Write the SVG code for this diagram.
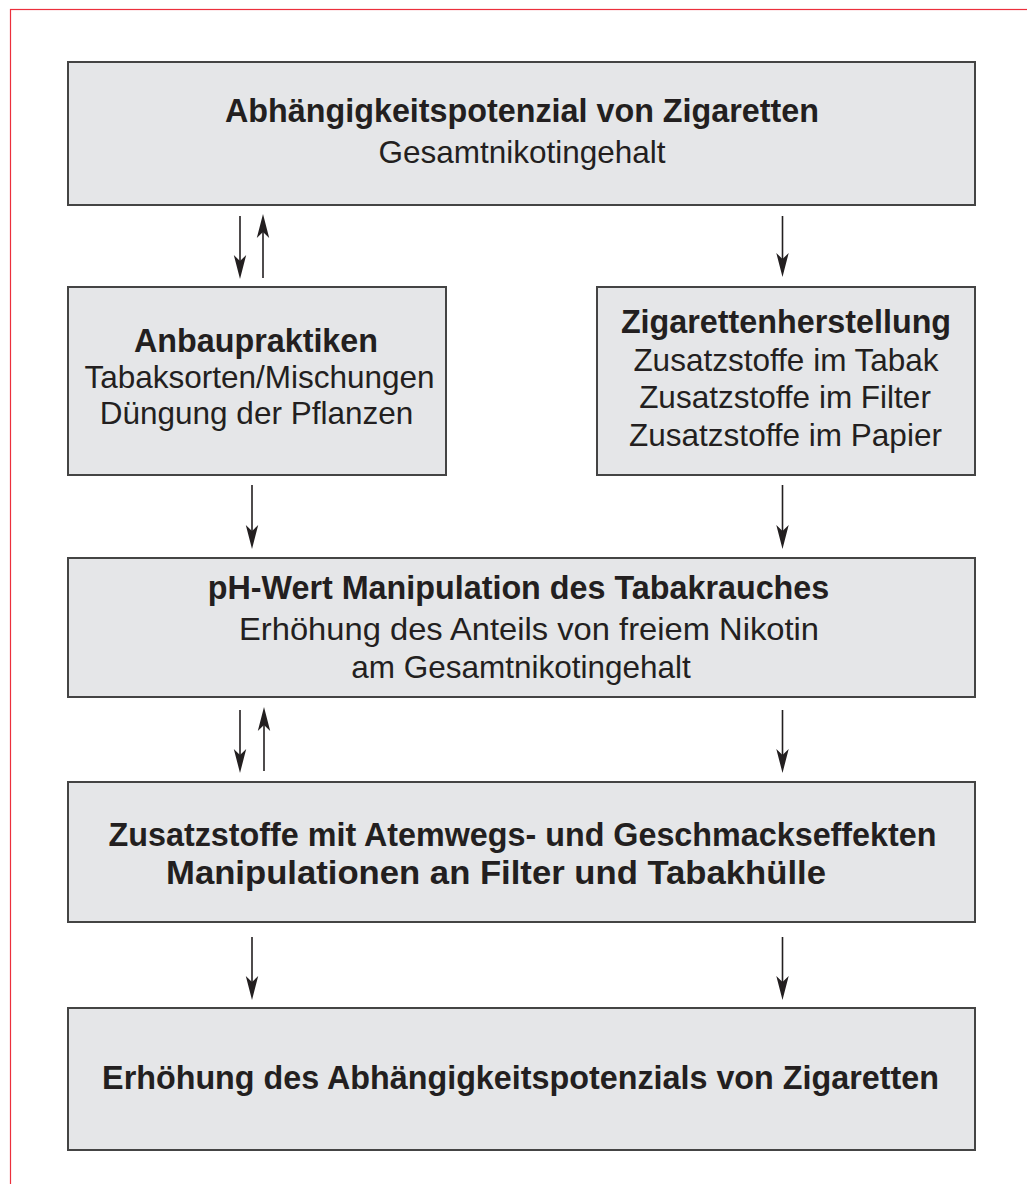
<svg xmlns="http://www.w3.org/2000/svg" width="1027" height="1184" viewBox="0 0 1027 1184">
<style>
.box{fill:#e5e6e8;stroke:#444;stroke-width:2}
.t{font-family:"Liberation Sans",Arial,Helvetica,sans-serif;font-size:31.5px;fill:#231f20;text-anchor:middle}
.b{font-weight:bold;font-size:32.3px}
.arr{stroke:#231f20;stroke-width:1.6;fill:none;marker-end:url(#ah)}
</style>
<defs>
<marker id="ah" markerUnits="userSpaceOnUse" viewBox="-25 -7 25 14" refX="-12" refY="0" markerWidth="25" markerHeight="14" orient="auto">
<path d="M0,0 L-24,-6.2 L-18,0 L-24,6.2 Z" fill="#231f20"/>
</marker>
</defs>
<rect x="10.5" y="9.5" width="1100" height="1300" fill="none" stroke="#ec2f3c" stroke-width="1.2"/>
<g id="n1">
<rect class="box" x="68" y="62" width="907" height="143"/>
<text class="t b" x="522" y="122">Abhängigkeitspotenzial von Zigaretten</text>
<text class="t" x="522" y="163">Gesamtnikotingehalt</text>
</g>
<g id="n2">
<rect class="box" x="68" y="287" width="378" height="188"/>
<text class="t b" x="256" y="352">Anbaupraktiken</text>
<text class="t" x="259.5" y="388">Tabaksorten/Mischungen</text>
<text class="t" x="256.5" y="424">Düngung der Pflanzen</text>
</g>
<g id="n3">
<rect class="box" x="597" y="287" width="378" height="188"/>
<text class="t b" x="786" y="333">Zigarettenherstellung</text>
<text class="t" x="786" y="370.5">Zusatzstoffe im Tabak</text>
<text class="t" x="785" y="408">Zusatzstoffe im Filter</text>
<text class="t" x="785.5" y="445.5">Zusatzstoffe im Papier</text>
</g>
<g id="n4">
<rect class="box" x="68" y="558" width="907" height="139"/>
<text class="t b" x="518.5" y="599">pH-Wert Manipulation des Tabakrauches</text>
<text class="t" x="529" y="640" textLength="580" lengthAdjust="spacingAndGlyphs">Erhöhung des Anteils von freiem Nikotin</text>
<text class="t" x="521" y="678">am Gesamtnikotingehalt</text>
</g>
<g id="n5">
<rect class="box" x="68" y="782" width="907" height="140"/>
<text class="t b" x="522.5" y="846">Zusatzstoffe mit Atemwegs- und Geschmackseffekten</text>
<text class="t b" x="496" y="884" textLength="660" lengthAdjust="spacingAndGlyphs">Manipulationen an Filter und Tabakhülle</text>
</g>
<g id="n6">
<rect class="box" x="68" y="1008" width="907" height="142"/>
<text class="t b" x="520.5" y="1089">Erhöhung des Abhängigkeitspotenzials von Zigaretten</text>
</g>
<g id="connectors">
<line class="arr" x1="240" y1="216" x2="240" y2="267"/>
<line class="arr" x1="263" y1="278" x2="263" y2="226"/>
<line class="arr" x1="782.5" y1="216" x2="782.5" y2="265"/>
<line class="arr" x1="252" y1="485" x2="252" y2="537"/>
<line class="arr" x1="782.5" y1="485" x2="782.5" y2="537"/>
<line class="arr" x1="240" y1="710" x2="240" y2="761"/>
<line class="arr" x1="264" y1="771" x2="264" y2="719"/>
<line class="arr" x1="782.5" y1="710" x2="782.5" y2="761"/>
<line class="arr" x1="252" y1="937" x2="252" y2="988"/>
<line class="arr" x1="782.5" y1="937" x2="782.5" y2="988"/>
</g>
</svg>
